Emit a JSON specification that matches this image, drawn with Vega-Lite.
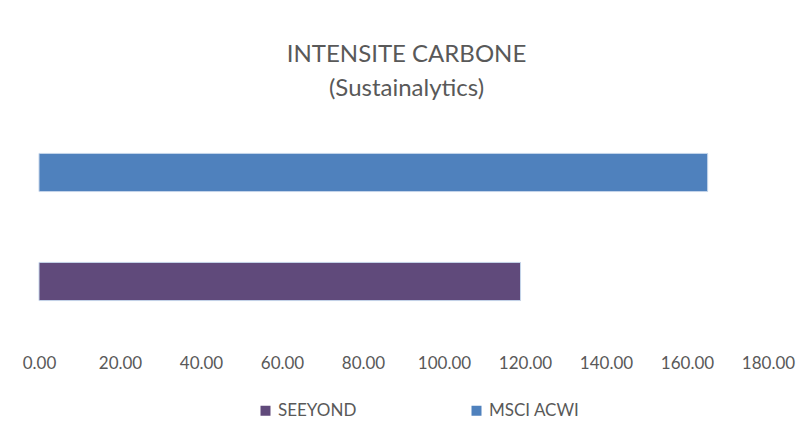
{
  "$schema": "https://vega.github.io/schema/vega-lite/v6.json",
  "width": 729,
  "height": 218,
  "autosize": {"type": "none"},
  "padding": {"left": 39, "top": 118, "right": 28, "bottom": 88},
  "background": "white",
  "title": {
    "text": ["INTENSITE CARBONE", "(Sustainalytics)"],
    "font": "Lato",
    "fontSize": 24,
    "fontWeight": "normal",
    "color": "#595959",
    "lineHeight": 34,
    "anchor": "middle",
    "dx": 3,
    "offset": 17
  },
  "data": {
    "values": [
      {"serie": "MSCI ACWI", "valeur": 165.1},
      {"serie": "SEEYOND", "valeur": 118.9}
    ]
  },
  "mark": {"type": "bar", "stroke": "#c5d5ea", "strokeWidth": 1},
  "encoding": {
    "y": {
      "field": "serie",
      "type": "nominal",
      "sort": ["MSCI ACWI", "SEEYOND"],
      "scale": {"paddingInner": 0.65, "paddingOuter": 0.325},
      "axis": null
    },
    "x": {
      "field": "valeur",
      "type": "quantitative",
      "scale": {"domain": [0, 180], "nice": false},
      "axis": {
        "values": [0, 20, 40, 60, 80, 100, 120, 140, 160, 180],
        "format": ".2f",
        "title": null,
        "domain": false,
        "ticks": false,
        "grid": false,
        "labelFont": "Lato",
        "labelFontSize": 17,
        "labelColor": "#595959",
        "labelPadding": 19,
        "labelFlush": false
      }
    },
    "color": {
      "field": "serie",
      "type": "nominal",
      "scale": {"domain": ["SEEYOND", "MSCI ACWI"], "range": ["#604A7B", "#4F81BD"]},
      "legend": {
        "title": null,
        "orient": "none",
        "direction": "horizontal",
        "legendX": 218,
        "legendY": 284,
        "symbolType": "square",
        "symbolSize": 100,
        "symbolStrokeWidth": 0,
        "labelFont": "Lato",
        "labelFontSize": 17,
        "labelColor": "#595959",
        "labelOffset": 4,
        "columnPadding": 111
      }
    }
  },
  "config": {"view": {"stroke": null}}
}
